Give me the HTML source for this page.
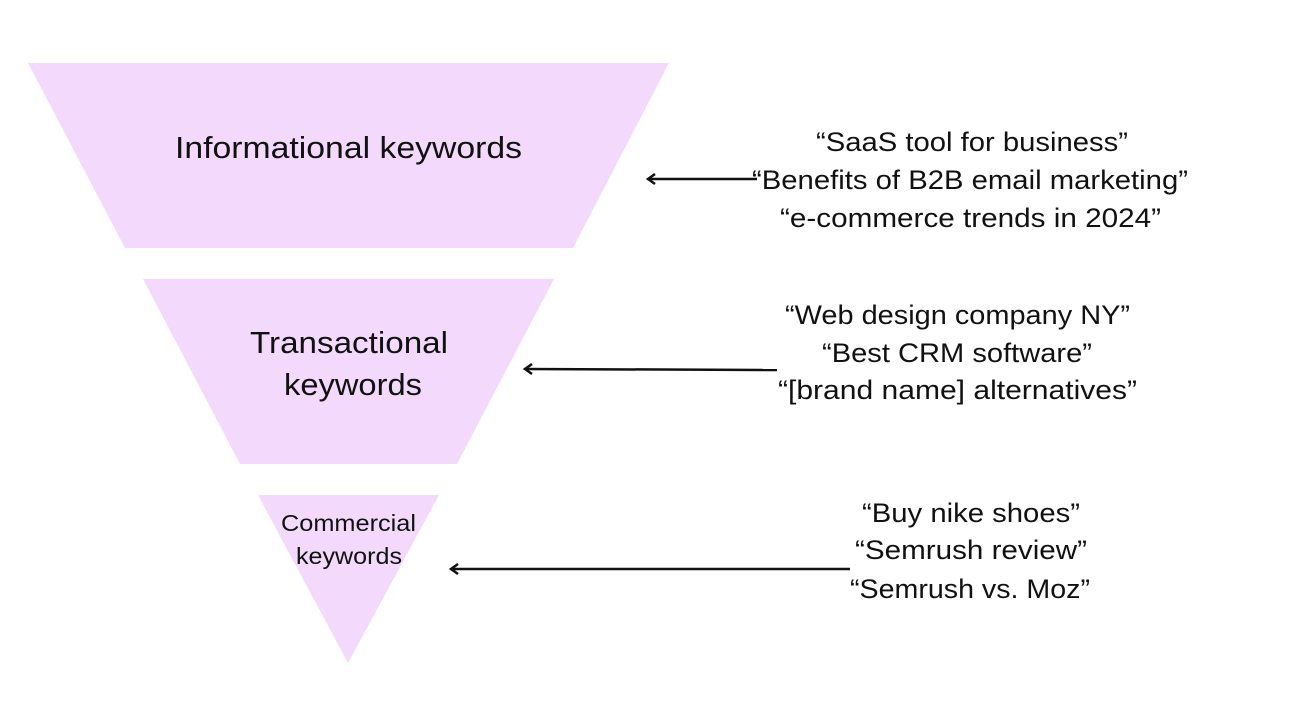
<!DOCTYPE html>
<html><head><meta charset="utf-8"><style>
html,body{margin:0;padding:0;background:#fff;}
svg{display:block;}
text{font-family:"Liberation Sans",sans-serif;fill:#111;}
</style></head><body>
<svg width="1292" height="727" viewBox="0 0 1292 727" xmlns="http://www.w3.org/2000/svg">
<rect width="1292" height="727" fill="#fff"/>
<polygon points="28,63 669,63 573,248 125,248" fill="#f3d9fb"/>
<polygon points="143,279 554,279 457,464 240,464" fill="#f3d9fb"/>
<polygon points="258,495 439,495 348,663" fill="#f3d9fb"/>
<g lengthAdjust="spacingAndGlyphs">
<text x="175" y="158" font-size="31" textLength="347" lengthAdjust="spacingAndGlyphs">Informational keywords</text>
<text x="250" y="353" font-size="31" textLength="198" lengthAdjust="spacingAndGlyphs">Transactional</text>
<text x="284" y="395" font-size="31" textLength="138" lengthAdjust="spacingAndGlyphs">keywords</text>
<text x="281" y="531" font-size="23" textLength="135" lengthAdjust="spacingAndGlyphs">Commercial</text>
<text x="296" y="564" font-size="23" textLength="106" lengthAdjust="spacingAndGlyphs">keywords</text>
<g font-size="27">
<text x="816" y="151" textLength="312" lengthAdjust="spacingAndGlyphs">“SaaS tool for business”</text>
<text x="752" y="189" textLength="436" lengthAdjust="spacingAndGlyphs">“Benefits of B2B email marketing”</text>
<text x="780" y="227" textLength="381" lengthAdjust="spacingAndGlyphs">“e-commerce trends in 2024”</text>
<text x="785" y="324" textLength="345" lengthAdjust="spacingAndGlyphs">“Web design company NY”</text>
<text x="822" y="362" textLength="270" lengthAdjust="spacingAndGlyphs">“Best CRM software”</text>
<text x="778" y="399" textLength="359" lengthAdjust="spacingAndGlyphs">“[brand name] alternatives”</text>
<text x="862" y="522" textLength="218" lengthAdjust="spacingAndGlyphs">“Buy nike shoes”</text>
<text x="855" y="559" textLength="232" lengthAdjust="spacingAndGlyphs">“Semrush review”</text>
<text x="850" y="598" textLength="240" lengthAdjust="spacingAndGlyphs">“Semrush vs. Moz”</text>
</g>
</g>
<g stroke="#111" stroke-width="2.5" fill="none">
<line x1="648" y1="179" x2="757" y2="179"/>
<polyline points="655,174 648,179 655,184"/>
<line x1="525" y1="369" x2="777" y2="370"/>
<polyline points="532,364 525,369 532,374"/>
<line x1="451" y1="569" x2="850" y2="569"/>
<polyline points="458,564 451,569 458,574"/>
</g>
</svg>
</body></html>
